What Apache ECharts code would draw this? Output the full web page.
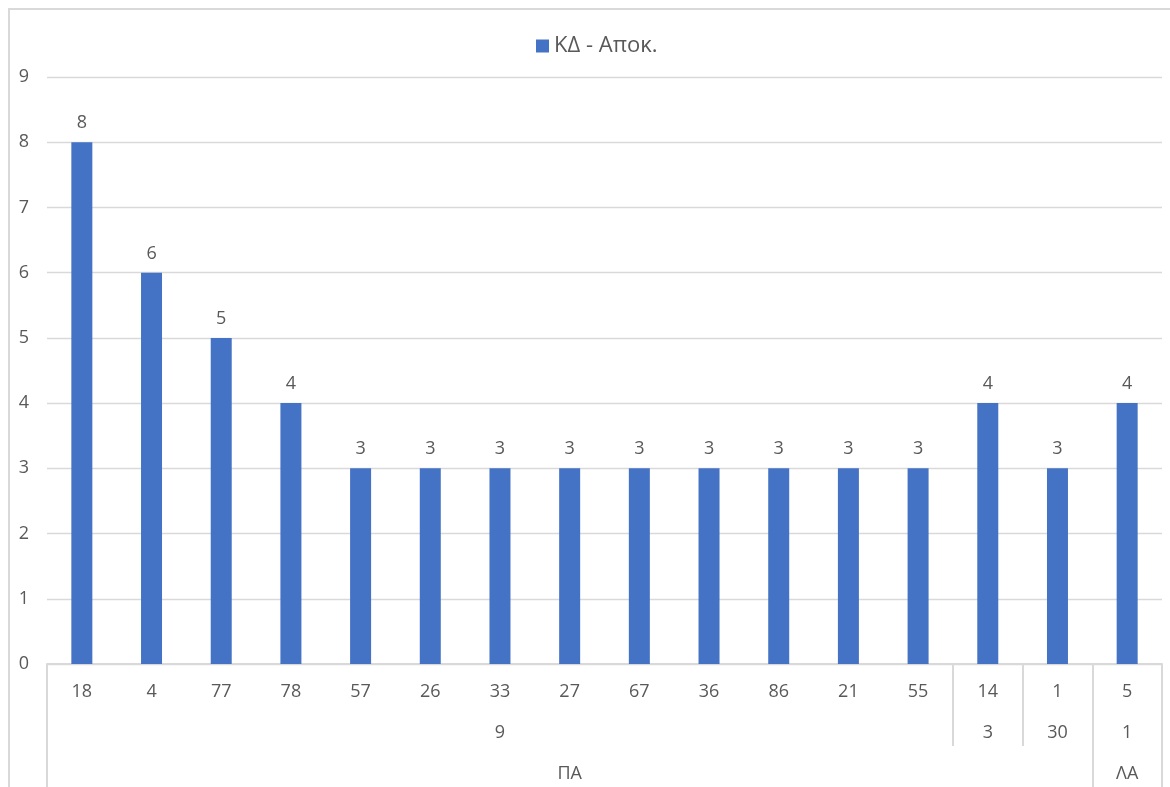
<!DOCTYPE html>
<html>
<head>
<meta charset="utf-8">
<script src="https://cdn.jsdelivr.net/npm/echarts@6/dist/echarts.min.js"></script>
<style>
html,body{margin:0;padding:0;background:#fff;overflow:hidden;}
#frame{position:absolute;left:8px;top:8px;width:1200px;height:900px;border:2px solid #d9d9d9;box-sizing:border-box;}
#chart{position:absolute;left:0;top:0;width:1170px;height:787px;}
</style>
</head>
<body>
<div id="frame"></div>
<div id="chart"></div>
<script>
const seriesName = 'ΚΔ - Αποκ.';
const level1 = ['18','4','77','78','57','26','33','27','67','36','86','21','55','14','1','5'];
const values = [8,6,5,4,3,3,3,3,3,3,3,3,3,4,3,4];
const level2Labels = ['9','3','30','1'];
const level2Spans = [13,1,1,1];
const level3Labels = ['ΠΑ','ΛΑ'];
const level3Spans = [15,1];
const yTicks = [0,1,2,3,4,5,6,7,8,9];

function buildGroupAxis(labels, spans) {
  const data = [];
  const starts = [];
  let idx = 0;
  labels.forEach((lab, g) => {
    const span = spans[g];
    starts.push(idx);
    const center = idx + Math.floor((span - 1) / 2);
    for (let k = 0; k < span; k++) data.push(idx + k === center ? lab : '');
    idx += span;
  });
  return { data, starts };
}
const lv2 = buildGroupAxis(level2Labels, level2Spans);
const lv3 = buildGroupAxis(level3Labels, level3Spans);

const textColor = '#595959';
const lineColor = '#d9d9d9';
const font = 'Open Sans';
const fs = 18;

const chart = echarts.init(document.getElementById('chart'), null, {renderer: 'canvas'});
chart.setOption({
  animation: false,
  textStyle: { fontFamily: font },
  legend: {
    top: 30,
    left: 531,
    icon: 'rect',
    itemWidth: 13,
    itemHeight: 13,
    itemGap: 6,
    textStyle: { color: textColor, fontSize: 22, fontFamily: font },
    data: [seriesName]
  },
  grid: { left: 47, right: 8, top: 77, bottom: 123, containLabel: false },
  xAxis: [
    {
      type: 'category',
      position: 'bottom',
      data: level1,
      axisLine: { show: true, lineStyle: { color: lineColor, width: 2 } },
      axisTick: { show: false },
      axisLabel: { color: textColor, fontSize: fs, margin: 19, interval: 0, fontFamily: font }
    },
    {
      type: 'category',
      position: 'bottom',
      data: lv2.data,
      axisLine: { show: false },
      axisTick: {
        show: true, length: 82,
        interval: (i) => lv2.starts.indexOf(i) >= 0,
        lineStyle: { color: lineColor, width: 2 }
      },
      axisLabel: { color: textColor, fontSize: fs, margin: 60, interval: 0, fontFamily: font }
    },
    {
      type: 'category',
      position: 'bottom',
      data: lv3.data,
      axisLine: { show: false },
      axisTick: {
        show: true, length: 130,
        interval: (i) => lv3.starts.indexOf(i) >= 0,
        lineStyle: { color: lineColor, width: 2 }
      },
      axisLabel: { color: textColor, fontSize: fs, margin: 101, interval: 0, fontFamily: font }
    }
  ],
  yAxis: {
    type: 'value',
    min: yTicks[0],
    max: yTicks[yTicks.length - 1],
    interval: 1,
    axisLine: { show: false },
    axisTick: { show: false },
    splitLine: { lineStyle: { color: lineColor, width: 1.3 } },
    axisLabel: { color: textColor, fontSize: fs, margin: 18, fontFamily: font }
  },
  series: [{
    name: seriesName,
    type: 'bar',
    xAxisIndex: 0,
    data: values,
    barWidth: 21,
    itemStyle: { color: '#4472C4' },
    label: { show: true, position: 'top', distance: 10, color: textColor, fontSize: fs, fontFamily: font }
  }]
});
</script>
</body>
</html>
